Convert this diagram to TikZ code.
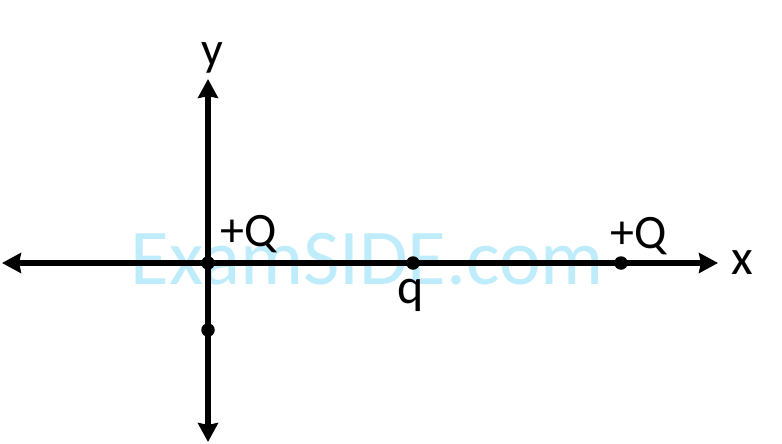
\documentclass[tikz,border=0pt]{standalone}
\usepackage{fontspec}
\setmainfont{Carlito}
\usetikzlibrary{arrows.meta}
\definecolor{wmark}{RGB}{190,236,251}
\tikzset{
  axis/.style={line width=6.5pt, {Stealth[length=19pt,width=20pt,inset=2pt]}-{Stealth[length=19pt,width=20pt,inset=2pt]}},
  charge/.style={circle, fill=black, inner sep=0pt, minimum size=13.5pt},
  lbl/.style={anchor=base, inner sep=0pt, font=\fontsize{48}{54}\selectfont},
  watermark/.style={anchor=base, inner sep=0pt, text=wmark, font=\fontsize{79}{84}\selectfont}
}
\begin{document}
\begin{tikzpicture}[x=1pt,y=-1pt]
\useasboundingbox (0,0) rectangle (782,444);
\node[watermark] (wm) at (367.5,284) {ExamSIDE.com};
\coordinate (xl) at (2,263);
\coordinate (xr) at (718,263);
\coordinate (yt) at (208,79);
\coordinate (yb) at (208,442);
\draw[axis] (xl) -- (xr);
\draw[axis] (yb) -- (yt);
\node[charge] (q1) at (208,263) {};
\node[charge] (q2) at (413,263) {};
\node[charge] (q3) at (621,263) {};
\node[charge] (p) at (208,330) {};
\node[lbl] (l1) at (249,246) {+Q};
\node[lbl] (l3) at (639,248) {+Q};
\node[lbl, font=\fontsize{50}{56}\selectfont] (l2) at (411,303) {q};
\node[lbl, font=\fontsize{50}{56}\selectfont] (lx) at (742,274) {x};
\node[lbl] (ly) at (212,66) {y};
\end{tikzpicture}
\end{document}
